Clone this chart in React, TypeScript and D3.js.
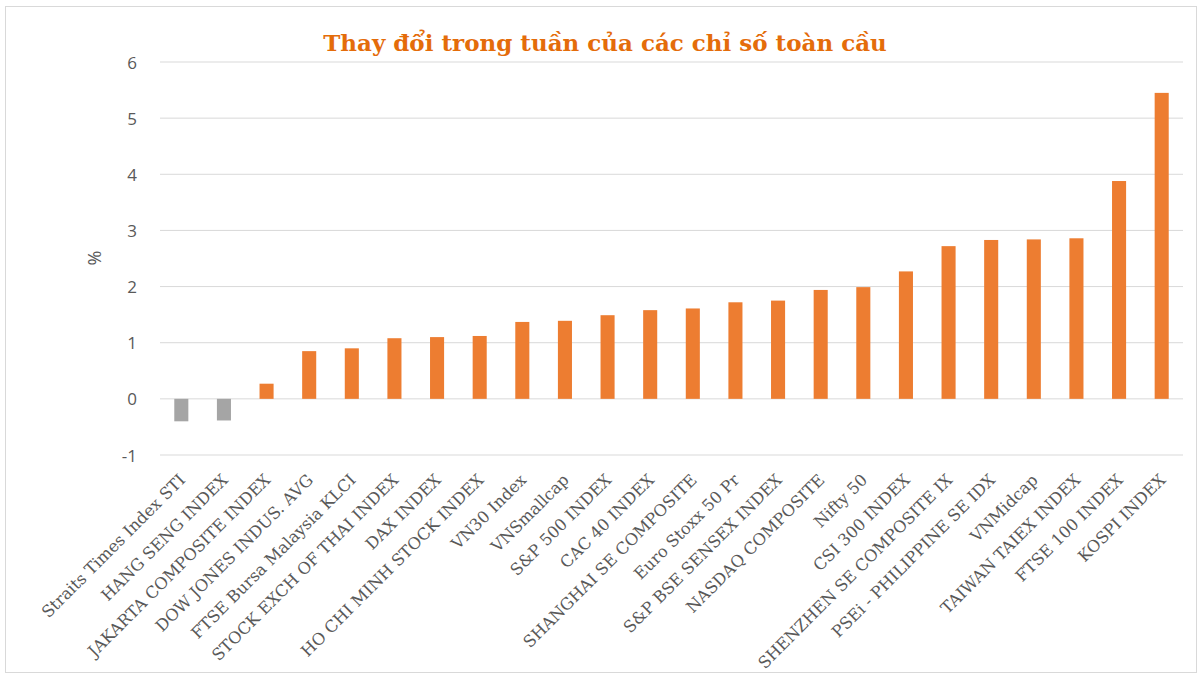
import React, { useEffect, useRef } from "react";
import * as d3 from "d3";

const categories = [
  "Straits Times Index STI",
  "HANG SENG INDEX",
  "JAKARTA COMPOSITE INDEX",
  "DOW JONES INDUS. AVG",
  "FTSE Bursa Malaysia KLCI",
  "STOCK EXCH OF THAI INDEX",
  "DAX INDEX",
  "HO CHI MINH STOCK INDEX",
  "VN30 Index",
  "VNSmallcap",
  "S&P 500 INDEX",
  "CAC 40 INDEX",
  "SHANGHAI SE COMPOSITE",
  "Euro Stoxx 50 Pr",
  "S&P BSE SENSEX INDEX",
  "NASDAQ COMPOSITE",
  "Nifty 50",
  "CSI 300 INDEX",
  "SHENZHEN SE COMPOSITE IX",
  "PSEi - PHILIPPINE SE IDX",
  "VNMidcap",
  "TAIWAN TAIEX INDEX",
  "FTSE 100 INDEX",
  "KOSPI INDEX",
];

const values = [
  -0.4, -0.385, 0.27, 0.85, 0.9, 1.08, 1.1, 1.12, 1.37, 1.39, 1.49, 1.58,
  1.61, 1.72, 1.75, 1.94, 1.99, 2.27, 2.72, 2.83, 2.84, 2.86, 3.88, 5.45,
];

const yTicks = [-1, 0, 1, 2, 3, 4, 5, 6];

const title = "Thay đổi trong tuần của các chỉ số toàn cầu";

const App = () => {
  const svgRef = useRef<SVGSVGElement>(null);
  const width = 1203;
  const height = 677;
  const margin = { top: 62, right: 20, bottom: 222, left: 160 };

  useEffect(() => {
    const svgEl = d3.select(svgRef.current);
    svgEl.selectAll("*").remove();

    // chart frame
    svgEl
      .append("rect")
      .attr("x", 5.5)
      .attr("y", 6.5)
      .attr("width", 1191)
      .attr("height", 666)
      .attr("fill", "#fff")
      .attr("stroke", "#d9d9d9");

    const data = categories.map((c, i) => ({ name: c, value: values[i] }));

    const xScale = d3
      .scaleBand()
      .domain(categories)
      .range([margin.left, width - margin.right])
      .paddingInner(0.67)
      .paddingOuter(0.335);

    const yScale = d3
      .scaleLinear()
      .domain([-1, 6])
      .range([height - margin.bottom, margin.top]);

    // gridlines
    svgEl
      .append("g")
      .selectAll("line")
      .data(yTicks)
      .enter()
      .append("line")
      .attr("x1", margin.left)
      .attr("x2", width - margin.right)
      .attr("y1", (d) => yScale(d))
      .attr("y2", (d) => yScale(d))
      .attr("stroke", "#d9d9d9")
      .attr("stroke-width", 1);

    // y tick labels
    svgEl
      .append("g")
      .selectAll("text")
      .data(yTicks)
      .enter()
      .append("text")
      .attr("x", 137)
      .attr("y", (d) => yScale(d))
      .attr("text-anchor", "end")
      .attr("dominant-baseline", "central")
      .attr("font-family", "'Open Sans', sans-serif")
      .attr("font-size", 17)
      .attr("fill", "#595959")
      .text((d) => d);

    // y axis title
    svgEl
      .append("text")
      .attr("transform", `translate(101,258) rotate(-90)`)
      .attr("text-anchor", "middle")
      .attr("font-family", "'Open Sans', sans-serif")
      .attr("font-size", 18)
      .attr("fill", "#595959")
      .text("%");

    // bars
    svgEl
      .append("g")
      .selectAll("rect")
      .data(data)
      .enter()
      .append("rect")
      .attr("x", (d) => xScale(d.name)!)
      .attr("width", xScale.bandwidth())
      .attr("y", (d) => yScale(Math.max(0, d.value)))
      .attr("height", (d) => Math.abs(yScale(d.value) - yScale(0)))
      .attr("fill", (d) => (d.value < 0 ? "#a5a5a5" : "#ed7d31"));

    // category labels
    svgEl
      .append("g")
      .selectAll("text")
      .data(categories)
      .enter()
      .append("text")
      .attr(
        "transform",
        (d) =>
          `translate(${xScale(d)! + xScale.bandwidth() / 2 + 5},${
            yScale(-1) + 26
          }) rotate(-45)`
      )
      .attr("text-anchor", "end")
      .attr("font-family", "'DejaVu Serif', serif")
      .attr("font-size", 16.3)
      .attr("fill", "#595959")
      .text((d) => d);

    // title
    svgEl
      .append("text")
      .attr("x", 605)
      .attr("y", 51)
      .attr("text-anchor", "middle")
      .attr("font-family", "'DejaVu Serif', serif")
      .attr("font-weight", "bold")
      .attr("font-size", 23)
      .attr("fill", "#e46c0a")
      .text(title);
  }, []);

  return (
    <svg
      ref={svgRef}
      width={width}
      height={height}
      style={{ position: "absolute", left: 0, top: 0 }}
    />
  );
};

export default App;
